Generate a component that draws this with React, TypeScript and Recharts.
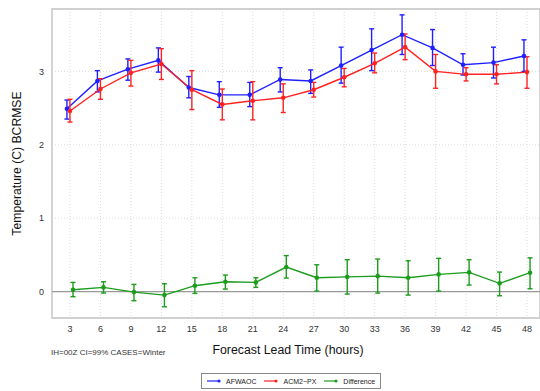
import React from 'react';
import {
  LineChart,
  Line,
  XAxis,
  YAxis,
  CartesianGrid,
  ErrorBar,
  ReferenceLine,
  ReferenceArea,
} from 'recharts';

// forecast lead times (hours)
const leadTimes = [3, 6, 9, 12, 15, 18, 21, 24, 27, 30, 33, 36, 39, 42, 45, 48];
const yTicks = [0, 1, 2, 3];

// AFWAOC BCRMSE with 99% CI bounds
const afwaoc = [2.49, 2.87, 3.03, 3.15, 2.78, 2.68, 2.68, 2.89, 2.87, 3.08, 3.29, 3.5, 3.32, 3.09, 3.12, 3.21];
const afwaocLow = [2.35, 2.72, 2.88, 2.99, 2.64, 2.51, 2.52, 2.72, 2.7, 2.84, 3.01, 3.23, 3.08, 2.95, 2.91, 3.0];
const afwaocHigh = [2.61, 3.01, 3.17, 3.32, 2.93, 2.86, 2.85, 3.05, 3.02, 3.33, 3.58, 3.77, 3.57, 3.24, 3.33, 3.43];

// ACM2-PX BCRMSE with 99% CI bounds
const acm2 = [2.46, 2.76, 2.98, 3.1, 2.75, 2.55, 2.6, 2.64, 2.75, 2.92, 3.11, 3.33, 3.0, 2.96, 2.96, 2.99];
const acm2Low = [2.31, 2.62, 2.8, 2.89, 2.48, 2.34, 2.34, 2.44, 2.65, 2.79, 2.98, 3.16, 2.77, 2.87, 2.83, 2.77];
const acm2High = [2.62, 2.9, 3.15, 3.31, 3.01, 2.76, 2.86, 2.83, 2.85, 3.04, 3.25, 3.51, 3.23, 3.05, 3.09, 3.2];

// difference (AFWAOC - ACM2-PX) with 99% CI bounds
const diff = [0.025, 0.057, -0.007, -0.048, 0.08, 0.134, 0.125, 0.334, 0.188, 0.2, 0.21, 0.188, 0.234, 0.262, 0.112, 0.257];
const diffLow = [-0.07, -0.02, -0.125, -0.207, -0.025, 0.034, 0.057, 0.184, 0.007, -0.034, -0.02, -0.048, 0.007, 0.089, -0.057, 0.038];
const diffHigh = [0.125, 0.134, 0.098, 0.107, 0.188, 0.225, 0.188, 0.49, 0.365, 0.434, 0.443, 0.42, 0.453, 0.434, 0.266, 0.46];

const BLUE = '#1f1fff';
const RED = '#ff2222';
const GREEN = '#1c9c1c';
const FONT = '"Liberation Sans", Arial, Helvetica, sans-serif';

// series are nudged sideways a little so the error bars don't overlap
function buildSeries(values: number[], low: number[], high: number[], shift: number) {
  return leadTimes.map((t, i) => ({
    x: t + shift,
    y: values[i],
    err: [values[i] - low[i], high[i] - values[i]],
  }));
}

const blueData = buildSeries(afwaoc, afwaocLow, afwaocHigh, -0.3);
const redData = buildSeries(acm2, acm2Low, acm2High, 0);
const greenData = buildSeries(diff, diffLow, diffHigh, 0.3);

const X_MIN = 1.23;
const X_MAX = 49.28;
const Y_MIN = -0.36;
const Y_MAX = 3.85;

const legendItems = [
  { name: 'AFWAOC', color: BLUE },
  { name: 'ACM2\u2212PX', color: RED },
  { name: 'Difference', color: GREEN },
];

function LegendBox() {
  return (
    <div
      style={{
        position: 'absolute',
        left: 201,
        top: 373,
        width: 173,
        height: 14,
        border: '1px solid #888',
        display: 'flex',
        alignItems: 'center',
        fontFamily: FONT,
        fontSize: 7,
        color: '#222',
        paddingLeft: 5,
        boxSizing: 'content-box',
      }}
    >
      {legendItems.map((it) => (
        <div key={it.name} style={{ display: 'flex', alignItems: 'center', marginRight: 8 }}>
          <svg width={14} height={6} style={{ marginRight: 5 }}>
            <line x1={0} y1={3} x2={12} y2={3} stroke={it.color} strokeWidth={1.2} />
            <circle cx={12} cy={3} r={1.6} fill={it.color} />
          </svg>
          <span>{it.name}</span>
        </div>
      ))}
    </div>
  );
}

export default function App() {
  const dot = (color: string) => ({ r: 2.3, fill: color, stroke: color, strokeWidth: 0 });
  return (
    <div style={{ position: 'absolute', left: 0, top: 0, width: 540, height: 391, background: '#fff', overflow: 'hidden' }}>
      <LineChart width={540} height={391} margin={{ top: 9, right: 0, bottom: 53, left: 0 }}>
        <CartesianGrid stroke="#dcdcdc" strokeDasharray="1 2" />
        <XAxis
          type="number"
          dataKey="x"
          domain={[X_MIN, X_MAX]}
          ticks={leadTimes}
          allowDataOverflow
          height={20}
          axisLine={false}
          tickLine={false}
          tick={{ fill: '#333', fontSize: 9, fontFamily: FONT }}
        />
        <YAxis
          type="number"
          domain={[Y_MIN, Y_MAX]}
          ticks={yTicks}
          allowDataOverflow
          width={52}
          axisLine={false}
          tickLine={false}
          tick={{ fill: '#333', fontSize: 9, fontFamily: FONT }}
          label={{
            value: 'Temperature (C) BCRMSE',
            angle: -90,
            position: 'insideLeft',
            offset: 17,
            style: { textAnchor: 'middle', fill: '#111', fontSize: 12.2, fontFamily: FONT },
          }}
        />
        <ReferenceArea x1={X_MIN} x2={X_MAX} y1={Y_MIN} y2={Y_MAX} fill="none" stroke="#d0d0d0" strokeWidth={1.8} />
        <ReferenceLine y={0} stroke="#999" strokeWidth={1.2} />
        <Line
          data={blueData}
          dataKey="y"
          stroke={BLUE}
          strokeWidth={1.4}
          dot={dot(BLUE)}
          activeDot={false}
          isAnimationActive={false}
        >
          <ErrorBar dataKey="err" stroke={BLUE} strokeWidth={1.4} width={2.5} isAnimationActive={false} />
        </Line>
        <Line
          data={redData}
          dataKey="y"
          stroke={RED}
          strokeWidth={1.4}
          dot={dot(RED)}
          activeDot={false}
          isAnimationActive={false}
        >
          <ErrorBar dataKey="err" stroke={RED} strokeWidth={1.4} width={2.5} isAnimationActive={false} />
        </Line>
        <Line
          data={greenData}
          dataKey="y"
          stroke={GREEN}
          strokeWidth={1.4}
          dot={dot(GREEN)}
          activeDot={false}
          isAnimationActive={false}
        >
          <ErrorBar dataKey="err" stroke={GREEN} strokeWidth={1.4} width={2.5} isAnimationActive={false} />
        </Line>
      </LineChart>
      <div
        style={{
          position: 'absolute',
          left: 188,
          top: 343,
          width: 200,
          textAlign: 'center',
          fontFamily: FONT,
          fontSize: 12.3,
          color: '#111',
          whiteSpace: 'nowrap',
        }}
      >
        Forecast Lead Time (hours)
      </div>
      <div
        style={{
          position: 'absolute',
          left: 51,
          top: 348,
          fontFamily: FONT,
          fontSize: 8,
          color: '#333',
          whiteSpace: 'nowrap',
        }}
      >
        IH=00Z CI=99% CASES=Winter
      </div>
      <LegendBox />
    </div>
  );
}
